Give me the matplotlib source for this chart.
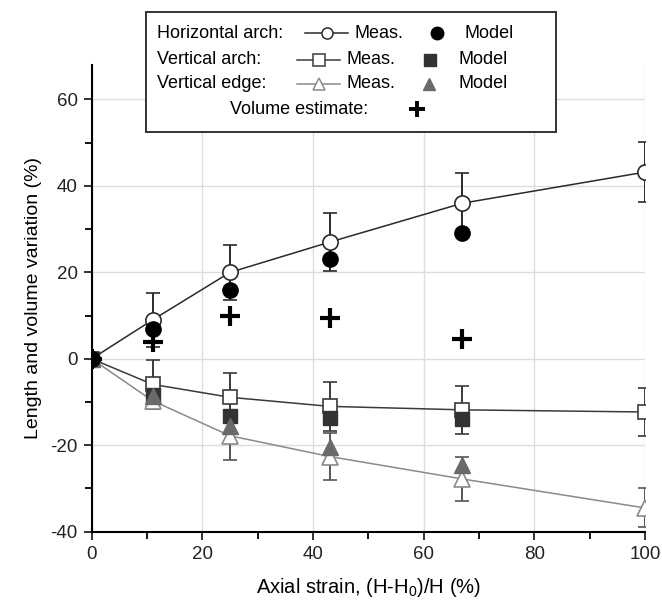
import matplotlib
matplotlib.use("Agg")
import matplotlib.pyplot as plt
from matplotlib.patches import Rectangle
from matplotlib.lines import Line2D

plt.rcParams['font.family'] = ['Liberation Sans', 'DejaVu Sans']
plt.rcParams['mathtext.fontset'] = 'custom'
plt.rcParams['mathtext.rm'] = 'Liberation Sans'
plt.rcParams['mathtext.it'] = 'Liberation Sans'
plt.rcParams['axes.unicode_minus'] = False

# measured points (axial strain, %)
x_meas = [0, 11, 25, 43, 67, 100]
horiz_meas = [0, 9.0, 20.0, 27.0, 36.0, 43.2]
horiz_err = [0, 6.2, 6.3, 6.7, 7.0, 7.0]
vert_meas = [0, -5.9, -8.9, -11.0, -11.8, -12.3]
vert_err = [0, 5.6, 5.7, 5.6, 5.5, 5.5]
edge_meas = [0, -9.7, -17.8, -22.6, -27.8, -34.5]
edge_err = [0, 2.0, 5.5, 5.5, 5.2, 4.5]

# model points
x_model = [0, 11, 25, 43, 67]
horiz_model = [0, 6.8, 15.9, 23.0, 29.0]
vert_model = [0, -8.3, -13.2, -13.8, -14.0]
edge_model = [0, -8.6, -15.5, -20.3, -24.5]

# volume estimate
vol_x = [0, 11, 25, 43, 67]
vol_est = [0, 4.0, 9.8, 9.4, 4.6]

fig = plt.figure(figsize=(6.62, 6.0), dpi=100)
ax = fig.add_axes([0.1385, 0.1138, 0.8358, 0.778])

c_h, c_v, c_e = "#2a2a2a", "#3a3a3a", "#8a8a8a"

ax.errorbar(x_meas, horiz_meas, yerr=horiz_err, color=c_h, lw=1.1, capsize=5,
            capthick=1.4, elinewidth=1.4, marker="o", ms=11, mfc="white",
            mec=c_h, mew=1.2, zorder=3)
ax.errorbar(x_meas, vert_meas, yerr=vert_err, color=c_v, lw=1.1, capsize=5,
            capthick=1.4, elinewidth=1.4, marker="s", ms=10.5, mfc="white",
            mec=c_v, mew=1.2, zorder=3)
ax.errorbar(x_meas, edge_meas, yerr=edge_err, color=c_e, lw=1.1, capsize=5,
            capthick=1.4, elinewidth=1.4, ecolor="#555555", marker="^", ms=12,
            mfc="white", mec=c_e, mew=1.2, zorder=3)

ax.plot(x_model, vert_model, ls="none", marker="s", ms=10, color="#333333", zorder=4)
ax.plot(x_model, edge_model, ls="none", marker="^", ms=12, color="#6a6a6a", zorder=4)
ax.plot(x_model, horiz_model, ls="none", marker="o", ms=11, color="black", zorder=4)
ax.plot(vol_x, vol_est, ls="none", marker="+", ms=15, mew=3, color="black", zorder=5)

ax.set_xlim(0, 100)
ax.set_ylim(-40, 68)
ax.set_xticks(range(0, 101, 20))
ax.set_xticks(range(0, 101, 10), minor=True)
ax.set_yticks(range(-40, 61, 20))
ax.set_yticks(range(-40, 61, 10), minor=True)
ax.grid(True, which="major", color="#dddddd", lw=1)
ax.set_axisbelow(True)
for s in ["top", "right"]:
    ax.spines[s].set_visible(False)
for s in ["left", "bottom"]:
    ax.spines[s].set_linewidth(1.5)
ax.tick_params(which="major", length=6, width=1.3, labelsize=13.5, colors="#222222", pad=4)
ax.tick_params(which="minor", length=5, width=1.3)
ax.set_xlabel("Axial strain, (H-H$_0$)/H (%)", fontsize=14.5, labelpad=10)
ax.set_ylabel("Length and volume variation (%)", fontsize=14, labelpad=6)

# hand-built legend in pixel coordinates
lax = fig.add_axes([0, 0, 1, 1], zorder=10)
lax.set_xlim(0, 662)
lax.set_ylim(600, 0)
lax.axis("off")
lax.add_patch(Rectangle((146, 12), 410, 120, facecolor="white", edgecolor="#333333", lw=1.4))
fs = 13
rows = [
    ("Horizontal arch:", 33, 305, 348, "o", c_h, 354, "o", "black", 437, 465),
    ("Vertical arch:", 60, 297, 340, "s", c_v, 347, "s", "#333333", 430, 458),
    ("Vertical edge:", 84, 297, 340, "^", c_e, 347, "^", "#6a6a6a", 429, 458),
]
for label, y, lx0, lx1, mk, col, mx, fmk, fcol, fx, tx in rows:
    lax.text(157, y, label, fontsize=fs, va="center", ha="left")
    lax.add_line(Line2D([lx0, lx1], [y, y], color=col, lw=1.1))
    lax.add_line(Line2D([(lx0 + lx1) / 2], [y], marker=mk, ms=8, mfc="white", mec=col, mew=1.1))
    lax.text(mx, y, "Meas.", fontsize=fs, va="center", ha="left")
    lax.add_line(Line2D([fx], [y], marker=fmk, ms=9, color=fcol, ls="none"))
    lax.text(tx, y, "Model", fontsize=fs, va="center", ha="left")
lax.text(230, 109, "Volume estimate:", fontsize=fs, va="center", ha="left")
lax.add_line(Line2D([417], [109], marker="+", ms=12, mew=2.8, color="black", ls="none"))

fig.savefig("out.png", dpi=100)
